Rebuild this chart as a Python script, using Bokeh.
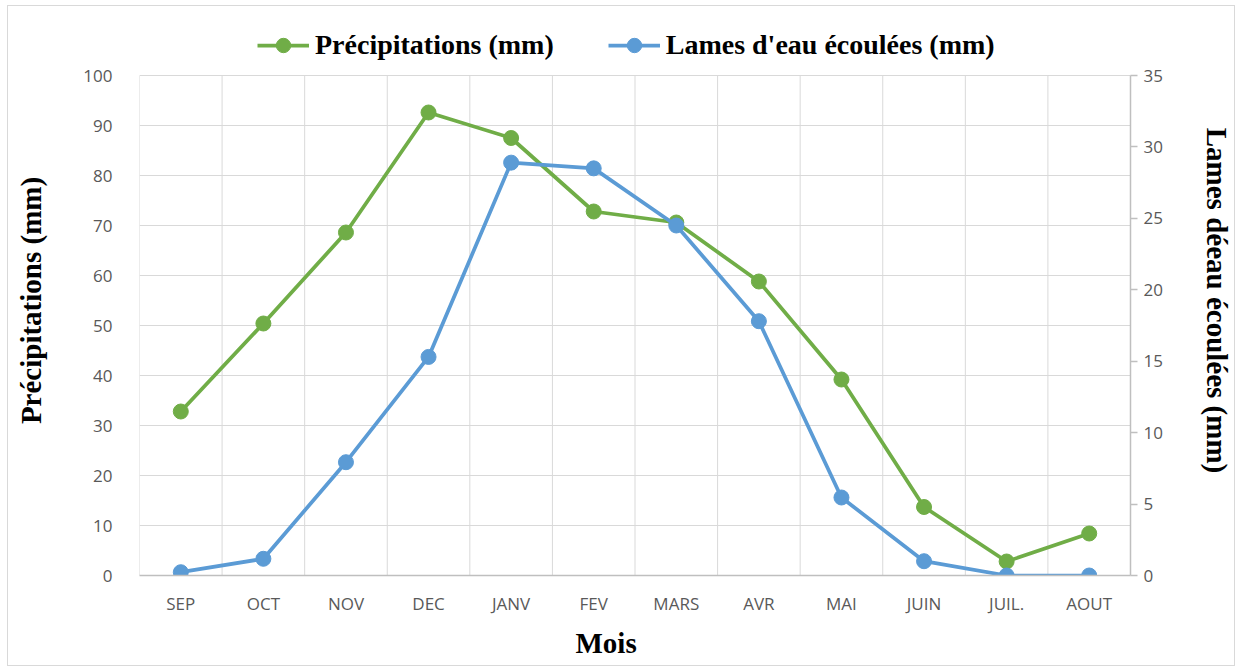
from bokeh.plotting import figure
from bokeh.models import LinearAxis, Range1d, FixedTicker, Legend, LegendItem, Title
from bokeh.embed import file_html
from bokeh.resources import INLINE

# Monthly values over the hydrological year
months = ["SEP", "OCT", "NOV", "DEC", "JANV", "FEV", "MARS", "AVR", "MAI", "JUIN", "JUIL.", "AOUT"]
precip = [32.8, 50.4, 68.6, 92.6, 87.5, 72.8, 70.6, 58.8, 39.2, 13.7, 2.8, 8.4]
runoff = [0.23, 1.17, 7.93, 15.3, 28.9, 28.5, 24.5, 17.8, 5.46, 1.0, 0.0, 0.0]
left_ticks = list(range(0, 101, 10))
right_ticks = list(range(0, 36, 5))

GREEN = "#70AD47"
BLUE = "#5B9BD5"
GRID = "#D9D9D9"
AXIS = "#BFBFBF"
TICK_TXT = "#595959"
SERIF = "Liberation Serif"
SANS = "Open Sans"

# headroom above the top tick keeps space for the legend row
HEAD = 1.10
left_max = left_ticks[-1]
right_max = right_ticks[-1]

# months sit in the middle of unit-wide slots
xs = [i + 0.5 for i in range(len(months))]
bounds_x = list(range(0, len(months) + 1))

p = figure(
    width=1228, height=661,
    x_range=Range1d(0, len(months)), y_range=Range1d(0, left_max * HEAD),
    output_backend="svg", toolbar_location=None,
    min_border_left=131, min_border_right=106,
    min_border_top=19, min_border_bottom=92,
)
p.styles = {"margin-left": "7px", "margin-top": "5px", "border": "1px solid #D9D9D9"}
p.outline_line_color = None
p.background_fill_color = "white"
p.border_fill_color = "white"

p.extra_y_ranges = {"runoff": Range1d(0, right_max * HEAD)}

# horizontal grid on the left scale; vertical separators between months
p.xgrid.visible = False
p.ygrid.ticker = FixedTicker(ticks=left_ticks)
p.ygrid.grid_line_color = GRID
p.ygrid.grid_line_width = 1
p.segment(x0=bounds_x, y0=[0] * len(bounds_x), x1=bounds_x, y1=[left_max] * len(bounds_x),
          line_color=GRID, line_width=1)

# bottom axis
xa = p.xaxis[0]
xa.ticker = FixedTicker(ticks=xs)
xa.major_label_overrides = {x: m for x, m in zip(xs, months)}
xa.axis_line_color = AXIS
xa.axis_line_width = 1.5
xa.major_tick_line_color = None
xa.minor_tick_line_color = None
xa.major_label_text_font = SANS
xa.major_label_text_font_size = "17px"
xa.major_label_text_color = TICK_TXT
xa.major_label_standoff = 10

# bottom title, set slightly left of the plot centre
p.add_layout(Title(text="Mois", align="left", offset=436, standoff=14,
                   text_font=SERIF, text_font_style="bold", text_font_size="29px",
                   text_color="black"), "below")

# left axis
ya = p.yaxis[0]
ya.ticker = FixedTicker(ticks=left_ticks)
ya.axis_line_color = None
ya.major_tick_line_color = None
ya.minor_tick_line_color = None
ya.major_label_text_font = SANS
ya.major_label_text_font_size = "17px"
ya.major_label_text_color = TICK_TXT
ya.major_label_standoff = 21
ya.axis_label = "Précipitations (mm)"
ya.axis_label_text_font = SERIF
ya.axis_label_text_font_style = "bold"
ya.axis_label_text_font_size = "29px"
ya.axis_label_text_color = "black"
ya.axis_label_standoff = 33

# right axis on the runoff scale
ra = LinearAxis(y_range_name="runoff", ticker=FixedTicker(ticks=right_ticks), bounds=(0, right_max))
ra.axis_line_color = AXIS
ra.axis_line_width = 1.5
ra.major_tick_line_color = AXIS
ra.major_tick_line_width = 1.5
ra.major_tick_out = 7
ra.major_tick_in = 0
ra.minor_tick_line_color = None
ra.major_label_text_font = SANS
ra.major_label_text_font_size = "17px"
ra.major_label_text_color = TICK_TXT
ra.major_label_standoff = 6
ra.axis_label = "Lames déeau écoulées (mm)"
ra.axis_label_text_font = SERIF
ra.axis_label_text_font_style = "bold"
ra.axis_label_text_font_size = "29px"
ra.axis_label_text_color = "black"
ra.axis_label_standoff = 35
p.add_layout(ra, "right")

# series
l1 = p.line(xs, precip, line_color=GREEN, line_width=3.75)
s1 = p.scatter(xs, precip, size=15, fill_color=GREEN, line_color=GREEN)
l2 = p.line(xs, runoff, line_color=BLUE, line_width=3.75, y_range_name="runoff")
s2 = p.scatter(xs, runoff, size=15, fill_color=BLUE, line_color=BLUE, y_range_name="runoff")

# legend row inside the headroom above the top gridline
legend = Legend(
    items=[
        LegendItem(label="Précipitations (mm)", renderers=[l1, s1]),
        LegendItem(label="Lames d'eau écoulées (mm)", renderers=[l2, s2]),
    ],
    orientation="horizontal",
    location=(118, 512),
    glyph_width=52,
    glyph_height=36,
    label_standoff=6,
    spacing=54,
    padding=4,
    margin=0,
    border_line_color=None,
    background_fill_alpha=0,
    label_text_font=SERIF,
    label_text_font_style="bold",
    label_text_font_size="28px",
    label_text_color="black",
)
p.add_layout(legend, "center")

open("out.html", "w").write(file_html(p, INLINE))
